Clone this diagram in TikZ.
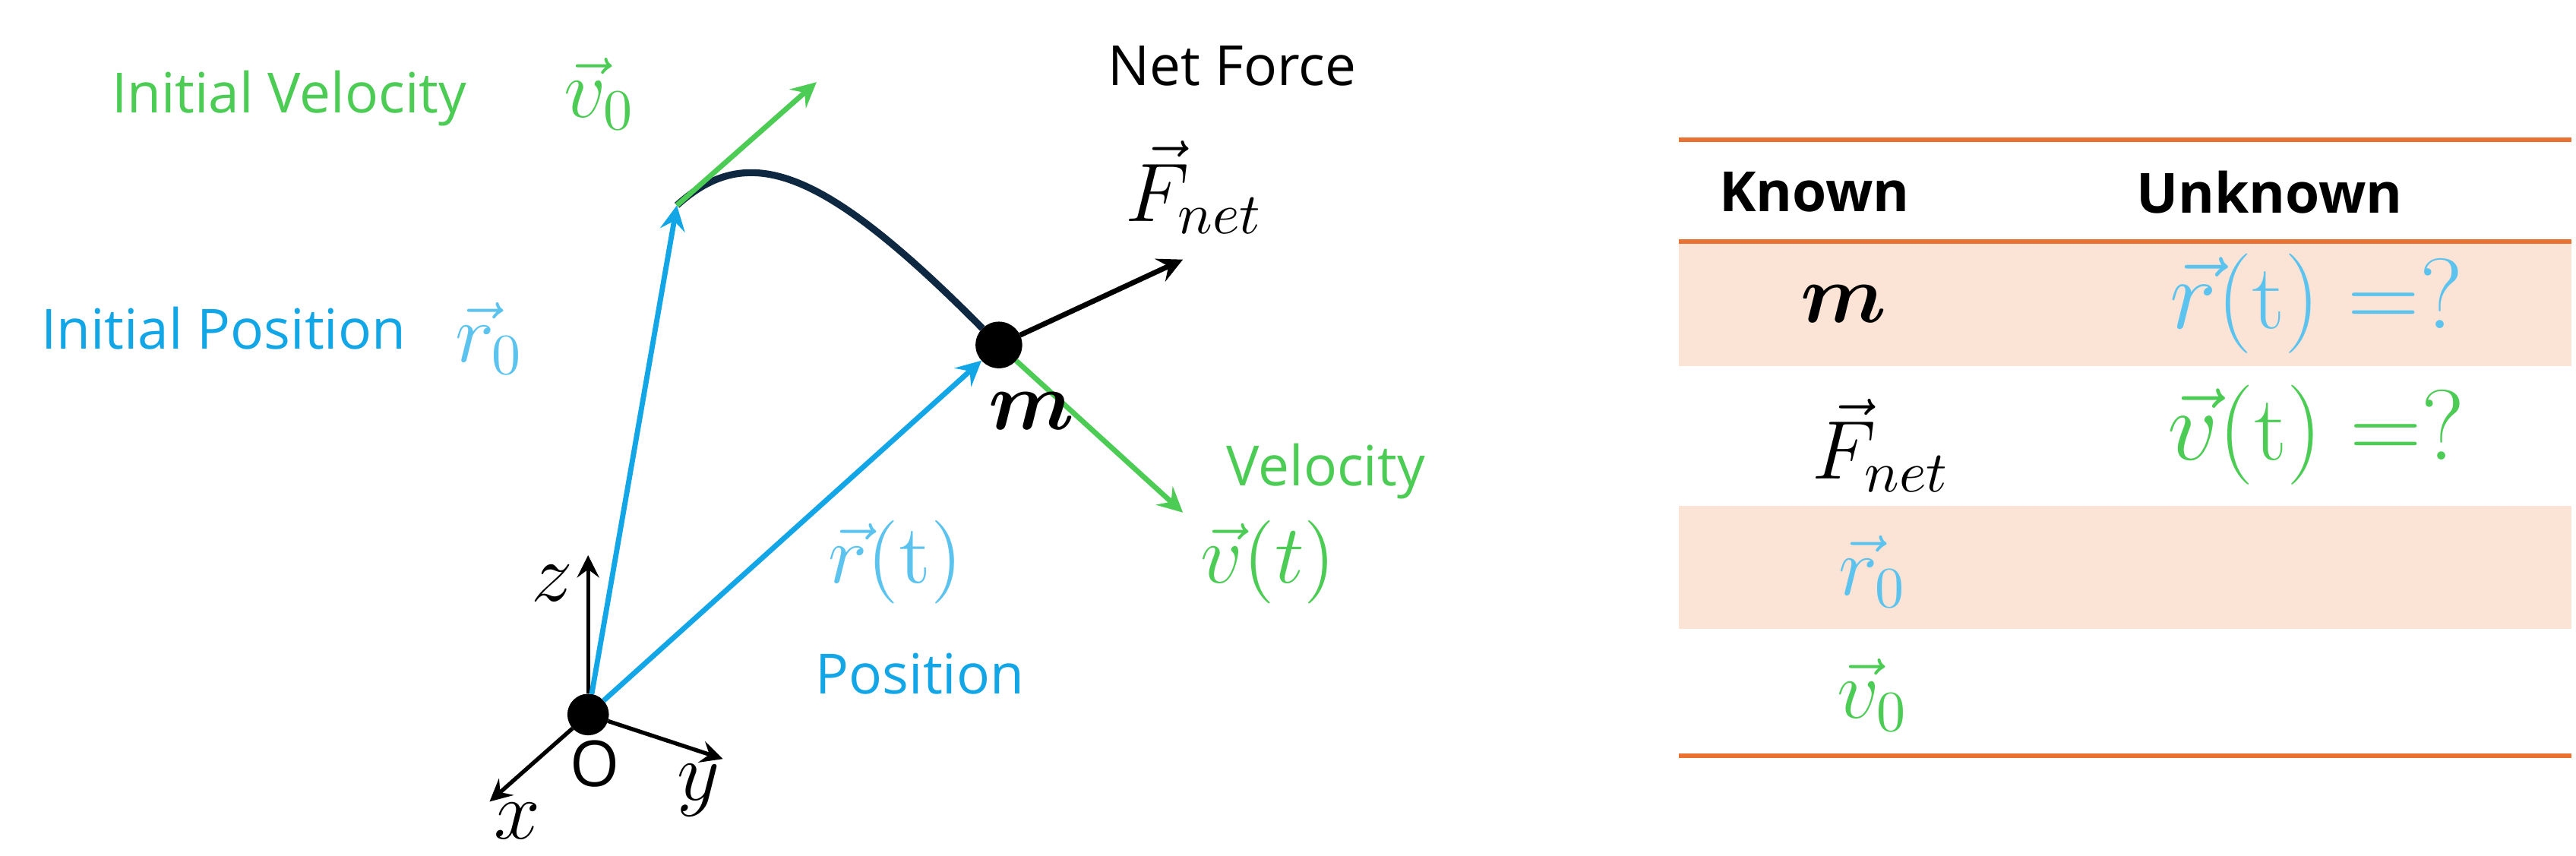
\documentclass[tikz,border=0pt]{standalone}
\usepackage{amsmath,amssymb,bm}
\usepackage{fontspec}
\setsansfont{Open Sans}
\usepackage{tikz}
\usetikzlibrary{calc}
\definecolor{vgreen}{HTML}{4CCB55}
\definecolor{pblue}{HTML}{12A6E6}
\definecolor{lblue}{HTML}{5CC3EE}
\definecolor{navy}{HTML}{0E2841}
\definecolor{rowfill}{HTML}{FBE3D6}
\definecolor{rule}{HTML}{E97132}
\tikzstyle{classic}=[draw=black,fill=black,inner sep=2.4pt,circle]
\tikzstyle{words}=[font=\sffamily\fontsize{9.6}{12}\selectfont]
\tikzstyle{sym}=[font=\fontsize{14.5}{16}\selectfont,inner sep=1pt]
\tikzstyle{big}=[font=\fontsize{16}{18}\selectfont,inner sep=1pt]
\tikzstyle{vec}=[-stealth,line width=0.9pt]

\begin{document}
\begin{tikzpicture}[x=1cm,y=1cm]
  \useasboundingbox (0,0) rectangle (15.68,5.21);
  % axes
  \node[classic] (O) at (3.58,0.86) {};
  \coordinate (zt) at (3.58,1.83);
  \coordinate (xt) at (2.98,0.33);
  \coordinate (yt) at (4.40,0.59);
  \draw[vec,line width=0.7pt] (O) -- (zt);
  \draw[vec,line width=0.7pt] (O) -- (xt);
  \draw[vec,line width=0.7pt] (O) -- (yt);
  \node[sym] at (3.36,1.66) {$z$};
  \node[sym] at (3.15,0.21) {$x$};
  \node[sym] at (4.25,0.40) {$y$};
  \node[words,font=\sffamily\fontsize{11}{12}\selectfont] at (3.62,0.56) {O};

  % path and mass
  \coordinate (r0) at (4.12,3.96);
  \node[draw=black,fill=black,circle,inner sep=0pt,minimum size=0.27cm] (m) at (6.08,3.11) {};
  \draw[navy,line width=1.2pt] (r0) .. controls (4.55,4.35) and (5.0,4.2) .. (m);
  \draw[vec,pblue] (O) -- (r0);
  \draw[vec,pblue] (O) -- (m);
  \coordinate (v0) at (4.97,4.71);
  \coordinate (Ft) at (7.20,3.63);
  \coordinate (vt) at (7.20,2.09);
  \draw[vec,vgreen] (r0) -- (v0);
  \draw[vec,black] (m) -- (Ft);
  \draw[vec,vgreen] (m) -- (vt);

  % labels
  \node[words,text=vgreen] at (1.76,4.61) {Initial Velocity};
  \node[sym,text=vgreen] at (3.65,4.64) {$\vec{v}_0$};
  \node[words] at (7.50,4.81) {Net Force};
  \node[sym] at (7.27,4.07) {$\vec{F}_{net}$};
  \node[words,text=pblue] at (1.36,3.21) {Initial Position};
  \node[sym,text=lblue] at (2.98,3.15) {$\vec{r}_0$};
  \node[sym] at (6.28,2.71) {$\bm{m}$};
  \node[words,text=vgreen] at (8.07,2.34) {Velocity};
  \node[sym,text=vgreen] at (7.72,1.79) {$\vec{v}(t)$};
  \node[sym,text=lblue] at (5.45,1.79) {$\vec{r}(\mathrm{t})$};
  \node[words,text=pblue] at (5.60,1.11) {Position};

  % table
  \fill[rowfill] (10.22,2.98) rectangle (15.65,3.74);
  \fill[rowfill] (10.22,1.38) rectangle (15.65,2.13);
  \foreach \y in {4.36,3.74,0.61}{
    \draw[rule,line width=0.8pt] (10.22,\y) -- (15.65,\y);
  }
  \node[words,font=\sffamily\bfseries\fontsize{9.6}{12}\selectfont,anchor=west] (k) at (10.34,4.04) {Known};
  \node[words,font=\sffamily\bfseries\fontsize{9.6}{12}\selectfont,anchor=west] (u) at (12.88,4.04) {Unknown};
  \node[sym] at (11.22,3.36) {$\bm{m}$};
  \node[sym] at (11.45,2.50) {$\vec{F}_{net}$};
  \node[sym,text=lblue] at (11.40,1.73) {$\vec{r}_0$};
  \node[sym,text=vgreen] at (11.40,0.98) {$\vec{v}_0$};
  \node[big,text=lblue] at (14.10,3.36) {$\vec{r}(\mathrm{t})=?$};
  \node[big,text=vgreen] at (14.10,2.56) {$\vec{v}(\mathrm{t})=?$};
\end{tikzpicture}
\end{document}
